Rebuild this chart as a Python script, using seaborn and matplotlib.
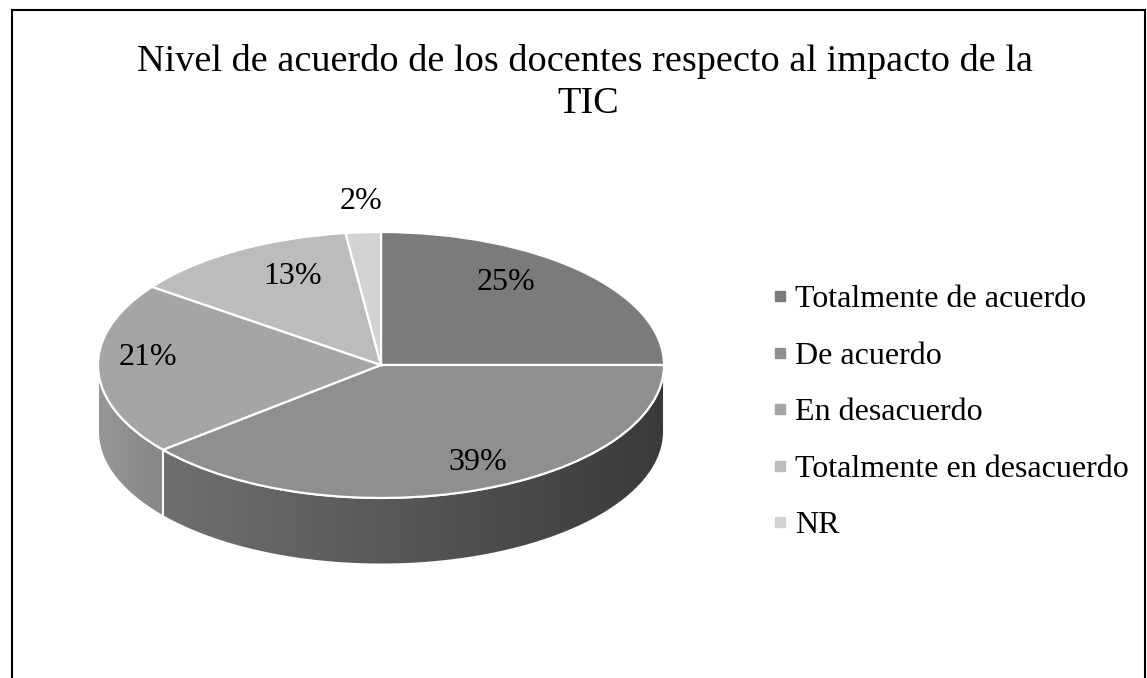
import numpy as np
import seaborn as sns
import matplotlib.pyplot as plt
from matplotlib.colors import LinearSegmentedColormap
from matplotlib.patches import Polygon, Rectangle
from matplotlib.lines import Line2D

# data
labels = ['Totalmente de acuerdo', 'De acuerdo', 'En desacuerdo',
          'Totalmente en desacuerdo', 'NR']
values = [25, 39, 21, 13, 2]
pct_text = ['25%', '39%', '21%', '13%', '2%']
colors = ['#7b7b7b', '#8f8f8f', '#a5a5a5', '#bcbcbc', '#d3d3d3']
side_left = ['#6e6e6e', '#707070', '#969696', '#a8a8a8', '#bcbcbc']
side_right = ['#3a3a3a', '#3a3a3a', '#878787', '#969696', '#a8a8a8']
# label placement: radius along the slice middle + vertical nudge
label_r = [0.625, 1.01, 0.823, 0.611, 1.13]
label_dy = [0.175, 0.22, 0.086, 0.143, 0.098]

sns.set_theme(style='white')
plt.rcParams['font.family'] = ['Liberation Serif', 'DejaVu Serif']
plt.rcParams['text.color'] = 'black'

W, H = 1147, 678
fig = plt.figure(figsize=(W / 100, H / 100), dpi=100)

# pie centre (px) and ellipse radii (px)
cx, cy, rx, ry = 381, 365, 283, 133
xl, yl = (-1.3, 1.3), (-1.8, 1.6)
ax = fig.add_axes([(cx + xl[0] * rx) / W, 1 - (cy - yl[0] * ry) / H,
                   (xl[1] - xl[0]) * rx / W, (yl[1] - yl[0]) * ry / H])

wedges, _ = ax.pie(values, colors=colors, startangle=90, counterclock=False,
                   wedgeprops=dict(edgecolor='white', linewidth=1.6, zorder=3))
ax.set_aspect('auto')

# side walls of the 3D pie (front half only)
depth = 0.5
grad = np.linspace(0, 1, 256).reshape(1, -1)
for w, cl, cr in zip(wedges, side_left, side_right):
    t1, t2 = sorted([w.theta1, w.theta2])
    for k in (-360, 0, 360):
        lo, hi = max(t1 + k, -180), min(t2 + k, 0)
        if hi <= lo:
            continue
        t = np.radians(np.linspace(lo, hi, 100))
        top = np.column_stack([np.cos(t), np.sin(t)])
        bot = np.column_stack([np.cos(t[::-1]), np.sin(t[::-1]) - depth])
        poly = Polygon(np.vstack([top, bot]), closed=True, facecolor='none',
                       edgecolor='white', linewidth=1.4, zorder=2)
        ax.add_patch(poly)
        cmap = LinearSegmentedColormap.from_list('side', [cl, cr])
        im = ax.imshow(grad, cmap=cmap, aspect='auto', zorder=1,
                       extent=[np.cos(t).min(), np.cos(t).max(), -1 - depth, 0.2])
        im.set_clip_path(poly)

ax.set_xlim(*xl)
ax.set_ylim(*yl)
ax.axis('off')

# percentage labels
for w, txt, r, dy in zip(wedges, pct_text, label_r, label_dy):
    mid = np.radians((w.theta1 + w.theta2) / 2)
    ax.text(r * np.cos(mid), r * np.sin(mid) + dy, txt, fontsize=23,
            ha='center', va='center', zorder=5)

# legend
handles = [Line2D([], [], marker='s', linestyle='none', markersize=7.5,
                  markerfacecolor=c, markeredgecolor=c) for c in colors]
fig.legend(handles, labels, loc='upper left', bbox_to_anchor=(774 / W, 1 - 285 / H),
           frameon=False, fontsize=23, handlelength=0.4, handletextpad=0.27,
           labelspacing=0.85, borderpad=0, borderaxespad=0)

# title (two lines)
fig.text(585 / W, 1 - 71 / H,
         'Nivel de acuerdo de los docentes respecto al impacto de la',
         ha='center', va='baseline', fontsize=27.5)
fig.text(588 / W, 1 - 113 / H, 'TIC', ha='center', va='baseline', fontsize=27.5)

fig.patches.append(Rectangle((12 / W, -0.1), (1145 - 12) / W, 1.1 - 10 / H,
                             transform=fig.transFigure, fill=False,
                             edgecolor='black', linewidth=1.5))

fig.savefig('out.png', dpi=100, facecolor='white')
